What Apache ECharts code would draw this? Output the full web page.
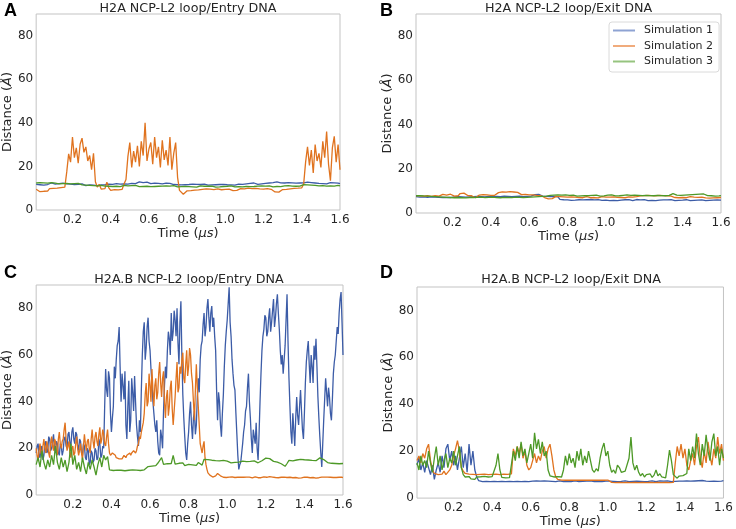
<!DOCTYPE html>
<html>
<head>
<meta charset="utf-8">
<script src="https://cdn.jsdelivr.net/npm/echarts@6/dist/echarts.min.js"></script>
<style>html,body{margin:0;padding:0;background:#fff}#c{width:736px;height:529px}</style>
</head>
<body>
<div id="c"></div>
<script>
const seriesNames = ['Simulation 1', 'Simulation 2', 'Simulation 3'];
const panelTitles = ['H2A NCP-L2 loop/Entry DNA', 'H2A NCP-L2 loop/Exit DNA', 'H2A.B NCP-L2 loop/Entry DNA', 'H2A.B NCP-L2 loop/Exit DNA'];
const panelLetters = ['A', 'B', 'C', 'D'];
const xTickValues = [0.2, 0.4, 0.6, 0.8, 1.0, 1.2, 1.4, 1.6];
const yTickValues = [0, 20, 40, 60, 80];
const timeStart = 0.01, timeEnd = 1.6;

// Panel A: H2A Entry (step 0.01)
const A_sim1 = [
11.8,12.2,11.6,12.0,11.4,12.3,11.7,11.9,12.4,11.6,
11.9,11.5,12.1,11.8,12.3,11.6,12.0,11.4,11.9,12.2,
11.7,11.3,11.8,11.5,12.0,11.6,11.2,11.8,11.5,11.9,
11.4,11.7,11.2,11.8,11.5,12.0,11.6,11.3,11.9,11.6,
11.8,11.5,12.1,11.7,11.9,12.4,12.0,12.5,11.9,12.6,
12.2,12.7,12.1,12.5,12.9,12.3,12.6,12.0,12.8,12.4,
12.1,12.6,12.3,12.8,12.2,12.5,12.0,12.7,12.3,12.6,
12.2,12.0,11.7,12.1,11.6,11.9,11.5,11.8,11.6,12.0,
11.7,11.4,11.9,11.6,11.8,11.3,11.7,11.5,11.9,11.6,
11.4,11.8,11.5,11.9,11.6,11.3,11.7,11.5,11.8,11.4,
11.6,11.9,11.5,11.8,11.4,11.7,11.9,11.5,11.8,12.3,
12.0,12.6,12.2,11.9,12.4,12.1,11.8,12.3,12.0,12.5,
12.2,12.8,12.4,12.1,12.6,12.3,12.9,12.2,12.5,12.1,
12.4,12.0,12.6,12.2,12.5,11.9,12.3,12.0,12.4,12.1,
12.5,12.2,12.8,12.3,12.6,12.1,12.4,12.7,12.2,12.5,
12.1,12.4,12.0,12.3,12.6,12.2,12.5,12.0,12.3,12.1];
const A_sim2 = [
9.5,8.8,8.4,9.1,8.6,9.3,8.7,9.8,10.2,9.9,
10.4,10.0,10.6,10.3,10.8,10.5,17.5,25.8,22.0,33.5,
24.0,28.5,21.5,30.2,33.0,26.5,29.0,22.5,25.0,18.5,
26.0,13.0,10.5,11.8,9.6,10.3,9.8,12.8,10.2,9.0,
8.6,9.4,8.8,9.2,8.7,9.5,12.0,14.0,24.5,31.0,
19.5,27.0,22.0,29.5,20.0,31.5,25.0,40.0,22.5,28.0,
31.0,21.0,33.5,24.0,29.0,19.5,32.0,23.0,27.5,20.5,
33.5,18.5,26.0,31.0,15.0,9.0,8.2,7.2,7.8,8.8,
9.3,8.9,9.6,9.1,9.8,9.2,8.9,9.5,9.0,9.7,
9.2,9.6,8.9,9.4,9.1,9.7,9.0,9.3,8.8,9.5,
9.1,9.6,9.2,8.9,9.5,9.0,9.4,9.8,9.3,9.7,
9.4,10.0,9.5,9.8,9.2,9.9,9.4,9.7,9.1,9.6,
9.3,9.8,9.0,9.5,8.7,8.3,8.6,8.2,8.8,9.4,
9.9,9.5,10.2,9.7,10.4,9.9,10.3,10.0,10.6,10.2,
12.0,22.0,29.0,20.5,27.5,17.0,30.0,22.5,26.0,19.5,
31.5,24.0,36.0,21.0,13.5,28.5,33.8,22.0,30.0,18.5];
const A_sim3 = [
12.4,12.0,12.6,12.2,12.5,11.9,12.3,12.1,12.6,12.0,
12.3,12.5,12.0,12.4,12.1,12.6,12.2,12.5,12.0,12.3,
12.1,11.8,12.2,11.7,11.5,11.2,11.4,11.0,11.3,10.9,
11.2,10.8,11.1,10.9,11.3,10.8,11.0,11.2,10.9,11.1,
10.8,11.2,10.9,11.1,10.7,11.0,11.3,10.9,11.1,10.8,
11.2,10.9,11.3,11.0,10.7,11.1,10.8,11.2,10.9,11.0,
10.7,11.1,10.8,11.2,10.9,10.6,11.0,10.8,11.1,10.7,
11.0,10.8,11.2,10.9,10.6,11.0,10.7,11.1,10.8,11.0,
10.7,11.0,10.6,10.9,10.5,10.8,11.1,10.7,10.9,10.6,
10.9,10.6,11.0,10.7,10.5,10.9,10.6,11.0,10.8,10.6,
10.9,10.7,11.1,10.8,10.6,11.0,10.7,10.9,10.6,11.0,
10.8,11.1,10.7,11.0,10.8,10.6,11.0,10.7,11.1,10.8,
11.0,10.7,11.1,10.9,10.6,11.0,10.8,11.1,10.7,10.9,
11.1,10.8,11.2,10.9,11.0,11.3,10.9,11.2,11.0,11.4,
11.6,11.2,11.5,11.1,11.4,11.0,11.3,11.5,11.1,11.4,
11.2,11.5,11.0,11.3,11.1,11.4,11.0,11.2,11.3,11.1];

// Panel B: H2A Exit (step 0.01)
const B_sim1 = [
7.4,7.8,7.2,7.6,7.3,7.7,7.1,7.5,7.3,7.6,
7.2,7.5,7.1,7.4,7.0,7.3,7.1,7.4,7.0,7.2,
7.3,7.0,7.4,7.1,7.3,6.9,7.2,7.0,7.3,7.1,
7.4,7.1,7.5,7.2,7.4,7.0,7.3,7.1,7.5,7.2,
7.4,7.2,7.5,7.1,7.4,7.2,7.6,7.3,7.5,7.2,
7.4,7.1,7.5,7.3,7.6,7.2,7.4,7.1,7.5,7.3,
7.6,8.0,8.3,8.1,8.4,8.0,7.6,7.8,7.5,7.7,
7.4,7.8,7.5,7.7,7.3,6.2,5.8,6.0,5.7,5.9,
6.0,5.7,6.1,5.8,5.6,6.0,5.7,5.9,5.6,6.0,
5.8,6.1,5.7,5.9,5.6,6.0,5.8,5.7,6.1,5.8,
5.9,5.6,6.0,5.7,5.9,5.6,6.1,5.8,5.7,6.0,
5.7,6.0,5.8,5.6,5.9,6.1,5.7,5.9,5.6,6.0,
5.8,5.6,6.0,5.7,5.9,5.6,6.0,5.8,5.7,5.9,
5.6,5.9,5.7,6.0,5.8,5.6,5.9,5.7,6.0,5.8,
5.7,6.0,5.8,5.6,5.9,5.7,6.0,5.8,5.6,5.9,
5.8,5.6,5.9,5.7,6.0,5.8,5.6,5.9,5.7,5.8];
const B_sim2 = [
7.9,8.4,7.7,8.2,7.6,8.5,7.8,8.1,7.5,8.3,
7.8,8.2,7.6,8.0,8.4,7.7,8.1,7.9,8.5,8.0,
7.6,8.2,7.8,8.8,8.1,9.0,8.3,7.9,8.4,7.8,
7.5,6.9,7.8,8.1,7.7,8.3,7.9,8.2,7.7,8.0,
8.3,8.0,8.6,9.2,8.8,9.6,9.0,9.4,8.8,9.7,
9.1,9.5,8.9,9.3,8.7,8.3,8.0,8.4,7.9,8.2,
7.8,8.2,7.7,8.0,7.6,7.9,7.4,7.0,6.6,6.4,
6.7,6.5,7.2,7.5,7.1,7.4,7.0,7.3,6.9,7.2,
7.0,7.3,6.9,7.2,7.4,7.0,7.3,6.9,7.1,7.4,
7.1,6.9,7.3,7.0,7.2,6.8,7.1,7.4,7.0,7.2,
6.9,7.2,7.0,7.3,6.8,7.1,7.4,7.0,7.2,6.9,
7.1,7.3,6.9,7.2,7.0,7.4,7.6,7.8,7.5,7.9,
7.6,8.0,7.7,7.9,7.5,7.8,7.6,8.0,7.7,7.9,
7.5,7.8,7.4,7.6,7.2,7.0,7.3,6.9,7.2,7.0,
7.3,6.9,7.1,7.4,7.0,7.2,6.8,7.1,6.9,7.2,
7.0,6.8,7.1,6.7,7.0,6.8,7.1,6.9,6.7,7.0];
const B_sim3 = [
7.8,7.4,7.9,7.5,7.7,7.3,7.6,7.2,7.5,7.1,
7.4,7.0,7.3,6.9,7.2,6.8,7.1,6.7,7.0,6.6,
6.9,6.6,7.0,6.7,6.9,6.5,6.8,6.6,7.0,6.7,
7.0,6.7,7.1,6.8,7.2,6.9,7.0,6.7,7.1,6.9,
7.2,6.8,7.0,6.6,6.9,6.7,7.1,6.8,7.0,6.7,
7.0,6.8,7.2,6.9,7.1,6.7,7.0,6.8,7.1,6.9,
7.2,6.9,7.3,7.0,7.4,7.1,7.5,7.3,7.6,7.8,
8.0,7.7,8.1,7.8,8.2,7.9,8.1,7.8,8.2,7.9,
8.0,7.7,8.1,7.8,7.6,8.0,7.7,8.1,7.8,7.6,
7.9,7.6,8.0,7.7,8.1,7.8,7.6,8.0,7.7,7.9,
8.1,7.8,8.2,7.9,7.7,8.1,7.8,8.2,8.0,7.8,
8.2,8.7,8.0,7.7,8.1,7.8,8.0,7.6,7.9,7.7,
8.0,7.7,7.9,7.5,7.8,7.6,8.0,7.7,7.9,8.1,
7.8,8.2,8.0,8.5,8.8,8.3,8.1,8.4,8.0,8.3,
8.1,8.5,8.2,8.6,8.3,8.0,8.4,8.9,8.5,8.2,
8.6,8.2,7.9,8.3,7.8,8.1,7.6,8.0,7.7,7.9];

// Panel C: H2A.B Entry (sim 1 and 2 at step 0.005, sim 3 at step 0.01)
const C_sim1 = [
18,21,22,17,16,20,21,15,17,22,23,18,19,25,24,19,20,23,26,20,
18,23,22,18,17,22,21,17,19,24,25,21,20,26,27,22,21,27,29,24,
22,27,26,21,19,24,23,18,17,22,21,16,15,20,19,13,14,19,18,14,
15,20,19,15,16,24,22,16,17,21,20,38,54,45,42,53,50,35,27,33,
38,55,50,58,64,66,72,55,40,52,47,41,53,30,24,38,49,27,32,50,
44,36,51,40,30,25,21,32,27,45,60,70,74,58,63,72,76,66,62,54,
48,40,35,30,27,32,23,18,17,28,25,20,36,47,55,50,62,70,67,60,
78,66,70,79,75,68,80,65,56,74,83,60,43,33,25,18,15,22,27,35,
40,30,24,33,36,26,30,42,50,44,58,64,66,73,78,68,72,80,84,76,
70,78,81,72,76,68,62,45,32,44,40,30,25,35,43,55,64,70,75,82,
89,74,68,58,52,47,45,35,26,17,11,13,14,18,22,27,30,36,38,46,
52,40,33,24,18,28,25,22,31,20,15,26,40,52,62,68,71,77,76,68,
70,76,80,70,74,79,84,72,76,82,86,78,71,62,56,60,52,58,64,75,
86,66,50,38,27,22,35,28,21,33,42,34,30,38,45,36,28,24,35,48,
57,62,66,56,48,60,55,48,64,58,67,55,42,33,25,18,12,22,32,41,
50,44,38,46,42,35,32,41,52,57,60,66,72,69,78,84,87,74,60];
const C_sim2 = [
20,17,15,19,22,18,17,21,24,20,18,23,21,18,16,22,25,21,19,24,
23,19,17,24,27,22,20,23,24,28,31,24,19,21,23,18,16,20,21,17,
18,22,25,20,17,19,22,18,15,21,26,22,19,23,24,20,18,24,28,23,
20,25,27,23,21,26,29,22,24,28,26,22,21,25,28,22,18,17,17.5,18,
18.5,17.5,17,16,16.5,15.5,15.5,16,15,15.5,16,17,16.5,16,17,17.5,17.5,18,17,18,
18,19,18.5,18,19,21,22,25,24,27,29,31,35,43,48,38,40,52,47,40,
54,45,38,47,50,41,44,52,57,48,42,50,53,40,33,42,45,34,38,46,
49,37,30,36,42,50,57,44,46,55,52,58,61,50,48,56,62,51,55,63,
60,52,48,40,32,45,56,46,38,30,22,20,18,21,23,16,13,11,9.5,9,
8.5,8.1,8.0,7.7,7.8,8.3,8.2,8.8,9.2,8.9,8.6,8.2,7.9,7.7,7.6,7.9,7.8,7.5,7.4,7.8,
7.7,7.5,7.4,7.8,7.9,7.6,7.5,7.3,7.8,7.6,7.3,7.7,7.6,7.4,7.9,7.6,7.4,7.8,7.7,7.5,
7.5,7.7,7.8,7.4,7.3,7.6,7.6,7.8,7.9,7.5,7.4,7.7,7.7,7.4,7.5,7.8,7.8,7.5,7.3,7.6,
7.6,7.8,7.9,7.5,7.4,7.7,7.7,7.5,7.5,7.9,7.8,7.4,7.3,7.7,7.6,7.4,7.4,7.7,7.8,7.5,
7.5,7.2,7.3,7.6,7.7,7.4,7.4,7.7,7.8,7.5,7.5,7.3,7.2,7.6,7.6,7.3,7.4,7.7,7.7,7.4,
7.3,7.6,7.6,7.3,7.4,7.7,7.8,7.5,7.5,7.3,7.2,7.6,7.6,7.4,7.3,7.6,7.7,7.4,7.5,7.7,
7.4,7.6,7.7,7.4,7.3,7.6,7.6,7.4,7.5,7.7,7.8,7.5,7.4,7.6,7.6,7.3,7.3,7.6,7.5];
const C_sim3 = [
13,16,12,19,14,11,15,12,17,13,
21,14,11,16,12,15,10,14,22,13,
17,11,14,10,16,12,9,14,11,15,
12,8.5,13,16,12,17,15,16.5,10.8,11.2,
10.5,11.0,10.7,11.3,10.6,11.0,10.4,10.9,10.6,11.1,
10.8,11.2,10.7,11.0,10.5,11.2,10.8,11.4,12.2,12.8,
12.4,13.2,12.6,13.6,12.9,16.0,13.1,12.7,13.4,12.8,
13.5,17.0,13.2,12.8,13.6,13.0,13.8,12.6,13.4,13.1,
13.6,12.9,13.4,12.7,13.9,13.2,12.8,15.3,14.6,15.2,
14.5,14.9,14.2,14.7,14.0,14.6,14.3,14.8,14.1,14.5,
14.2,13.8,14.4,14.0,14.6,14.1,13.9,14.5,14.0,14.3,
13.9,14.4,14.0,14.6,14.2,13.8,14.3,14.7,15.2,15.8,
16.5,15.6,15.0,14.4,14.8,14.1,14.5,13.4,12.6,12.3,
13.5,14.8,15.2,14.6,15.4,15.0,14.7,15.3,14.9,15.1,
14.6,15.0,14.4,14.8,14.2,14.7,15.3,15.9,16.4,15.2,
14.4,13.9,14.2,13.6,14.0,13.5,13.8,13.4,13.7,13.5];

// Panel D: H2A.B Exit (step 0.01)
const D_sim1 = [
14,17,12,15,11,16,13,10,14,8,
12,15,11,18,13,21,23,16,20,14,
18,12,17,22,13,19,11,23,14,20,
12,9,7.4,7.2,7.0,7.3,7.1,7.2,7.0,7.3,
7.1,7.3,7.0,7.2,7.1,7.3,7.0,7.2,7.1,7.3,
7.0,7.2,7.1,7.3,7.0,7.2,7.1,7.3,7.0,7.2,
7.2,7.0,7.3,7.1,7.2,7.0,7.3,7.1,7.2,7.0,
7.1,7.3,7.0,7.2,7.3,7.1,7.0,7.2,7.1,7.3,
7.0,7.2,7.3,7.1,7.0,7.2,7.1,7.3,7.2,7.0,
7.3,7.1,7.0,7.2,7.1,7.3,7.0,7.1,7.2,7.0,
7.2,7.0,7.1,7.3,7.0,7.2,7.1,7.0,7.3,7.1,
7.0,7.2,7.1,7.3,7.2,7.0,7.1,7.2,7.0,7.3,
7.1,7.0,7.3,7.2,7.0,7.1,7.3,7.0,7.2,7.1,
7.3,7.1,7.0,7.2,7.1,7.3,7.2,7.4,7.2,7.5,
7.3,7.5,7.2,7.4,7.3,7.1,7.4,7.2,7.5,7.3,
7.2,7.4,7.1,7.3,7.2,7.4,7.1,7.3,7.2,7.4];
const D_sim2 = [
16,18,15,19,17,21,23,16,12,10.5,
11,10,10.8,10.2,11.5,10,10.8,12,14,18,
21,24.5,20,13,11.5,10.5,10.8,10.2,10.6,10.1,
10.5,10.0,10.4,10.1,10.6,10.2,10.5,10.0,10.4,10.1,
10.6,10.2,10.5,10.0,10.4,10.2,10.6,10.1,10.5,10.3,
21,18,22,19,23,17,20,14,12,13,
16,19,15,18,16,20,22,17,21,23,
18,12,9,8,7.9,7.7,7.8,7.6,7.9,7.7,
7.8,7.6,7.9,7.7,7.8,7.6,7.9,7.7,7.8,7.6,
7.9,7.7,7.8,7.6,7.9,7.7,7.8,7.6,7.8,7.7,
6.9,6.7,6.8,6.6,6.9,6.7,6.8,6.6,6.9,6.7,
6.8,6.6,6.9,6.7,6.8,6.6,6.9,6.7,6.8,6.6,
6.9,6.7,6.8,6.6,6.9,6.7,6.8,6.6,6.9,6.7,
6.8,6.6,6.9,6.7,15,22,18,23,17,21,
14,12,16,19,14,22,26,17,13,20,
15,24,18,14,21,17,26,19,23,16];
const D_sim3 = [
15,12,18,14,16,13,20,15,11,17,
22,14,18,12,16,19,13,17,15,20,
14,18,22,13,10,9,8.5,9.2,8.2,8.8,
8,9,8.4,9.1,8.6,9.3,8.7,9.0,8.5,9.2,
8.8,14,19,12,8.8,9.1,8.6,9.0,8.7,9.2,
20,16,22,17,24,18,21,15,19,23,
17,27.8,21,25,19,24,18,20,12,9.5,
10,9,8.5,9.2,8.6,9,12,18,14,19,
15,17,13,20,16,21,14,18,15,20,
16,12,11,12.5,11.5,17,21,23.5,18,20,
14,11,12,10.5,14,13,11,10.5,11.5,10.8,
17,26,15,12,14,11,9.5,10.5,9,10,
9.2,10.3,8.8,9.8,12,9.5,10.4,9,9.8,8.6,
14,20.5,16,10,9.2,8.5,9.4,8.8,9.6,9,
10.5,21,16,22,17,27.5,19,14,23,18,
27,20,16,24,27.5,18,22,14,21,17];

const panelData = [
  [A_sim1, A_sim2, A_sim3],
  [B_sim1, B_sim2, B_sim3],
  [C_sim1, C_sim2, C_sim3],
  [D_sim1, D_sim2, D_sim3]
];

// ---- Build ----
// each array is evenly spaced in time from timeStart to timeEnd
const pairs = arr => {
  const step = (timeEnd - timeStart) / (arr.length - 1);
  return arr.map((v, i) => [Math.round((timeStart + i * step) * 1000) / 1000, v]);
};

const colors = ['#3c5ca7', '#e0731f', '#4d9927'];
const legendColors = ['#8ea3d3', '#f0ab7c', '#96c47f'];
const txt = '#262626';
const FF = 'DejaVu Sans';

const grids = [
  {left: 36, top: 14, width: 304, height: 196},
  {left: 416, top: 14, width: 305, height: 199},
  {left: 35, top: 285, width: 308, height: 210},
  {left: 417, top: 287, width: 308, height: 212}
];
const titleTops = [2, 2, 273, 273];
const letterPos = [[4, 2], [380, 2], [4, 264], [380, 264]];

const option = {
  animation: false,
  backgroundColor: '#ffffff',
  color: colors,
  title: [],
  grid: grids.map(g => Object.assign({show: true, borderColor: '#c3c3c3', borderWidth: 1, containLabel: false}, g)),
  xAxis: [],
  yAxis: [],
  legend: {
    data: seriesNames.map((n, i) => ({name: n, itemStyle: {color: legendColors[i]}})),
    orient: 'vertical',
    left: 609, top: 22,
    padding: [2, 6, 4, 4],
    itemGap: 2.5,
    itemWidth: 22, itemHeight: 2,
    icon: 'rect',
    borderColor: '#dadada', borderWidth: 1, borderRadius: 3,
    backgroundColor: '#ffffff',
    textStyle: {fontFamily: FF, fontSize: 11, color: txt, lineHeight: 13, padding: [0, 0, 0, 4]}
  },
  series: []
};

grids.forEach((g, p) => {
  option.title.push({
    text: panelTitles[p], left: g.left + g.width / 2, top: titleTops[p], textAlign: 'center', padding: 0,
    textStyle: {fontFamily: FF, fontSize: 12.7, fontWeight: 'normal', color: txt}
  });
  option.title.push({
    text: panelLetters[p], left: letterPos[p][0], top: letterPos[p][1], padding: 0,
    textStyle: {fontFamily: 'Liberation Sans', fontSize: 18, fontWeight: 'bold', color: '#000'}
  });
  option.xAxis.push({
    type: 'value', gridIndex: p, min: timeStart, max: timeEnd,
    axisLine: {show: false}, axisTick: {show: false}, splitLine: {show: false},
    axisLabel: {customValues: xTickValues, formatter: v => v.toFixed(1), fontFamily: FF, fontSize: 12, color: txt, margin: 4},
    name: '{n|Time (}{i|μs}{n|)}', nameLocation: 'middle', nameGap: 6,
    nameTextStyle: {fontFamily: FF, fontSize: 13, color: txt,
      rich: {n: {fontFamily: FF, fontSize: 13, color: txt}, i: {fontFamily: FF, fontSize: 13, color: txt, fontStyle: 'italic'}}}
  });
  option.yAxis.push({
    type: 'value', gridIndex: p, min: 0, max: 90,
    axisLine: {show: false}, axisTick: {show: false}, splitLine: {show: false},
    axisLabel: {customValues: yTickValues, fontFamily: FF, fontSize: 12, color: txt, margin: 3},
    name: '{n|Distance (}{i|Å}{n|)}', nameLocation: 'middle', nameGap: 12,
    nameTextStyle: {fontFamily: FF, fontSize: 13, color: txt,
      rich: {n: {fontFamily: FF, fontSize: 13, color: txt}, i: {fontFamily: FF, fontSize: 13, color: txt, fontStyle: 'italic'}}}
  });
  panelData[p].forEach((arr, s) => {
    option.series.push({
      type: 'line', name: seriesNames[s], xAxisIndex: p, yAxisIndex: p,
      data: pairs(arr), showSymbol: false, symbol: 'none',
      lineStyle: {width: 1.3, color: colors[s]}, itemStyle: {color: colors[s]},
      z: 2 + s
    });
  });
});

const chart = echarts.init(document.getElementById('c'), null, {renderer: 'canvas'});
chart.setOption(option);
</script>
</body>
</html>
